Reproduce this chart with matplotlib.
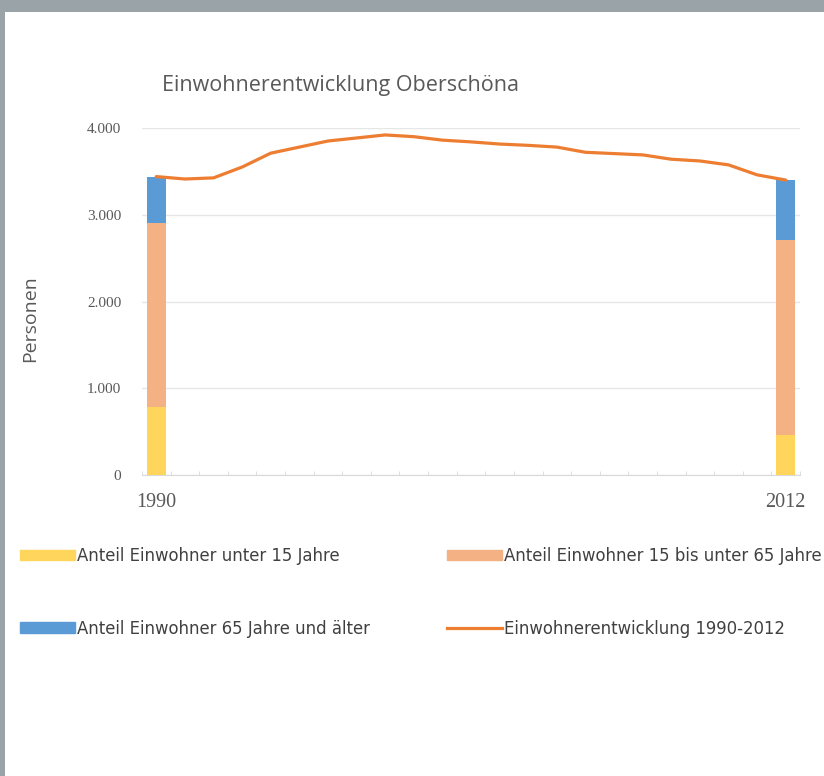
import matplotlib
matplotlib.use("Agg")
import matplotlib.pyplot as plt
from matplotlib.patches import Rectangle, Patch
from matplotlib.lines import Line2D
from matplotlib.ticker import FuncFormatter, FixedLocator

# Population of Oberschöna, 1990-2012
years = list(range(1990, 2013))
population = [3440, 3412, 3425, 3550, 3710, 3780, 3850, 3885, 3920, 3900,
              3860, 3840, 3815, 3800, 3780, 3720, 3705, 3690, 3640, 3620,
              3575, 3460, 3400]

# Age structure in the first and last year
bar_years = [1990, 2012]
under_15 = [785, 460]
age_15_65 = [2120, 2250]
age_65_plus = [535, 690]

x_labels = ["1990", "2012"]
legend_labels = [
    "Anteil Einwohner unter 15 Jahre",
    "Anteil Einwohner 15 bis unter 65 Jahre",
    "Anteil Einwohner 65 Jahre und älter",
    "Einwohnerentwicklung 1990-2012",
]

C_YELLOW = "#FFD55C"
C_PEACH = "#F4B183"
C_BLUE = "#5B9BD5"
C_LINE = "#ED7D31"
C_TEXT = "#595959"

W, H = 824, 776
fig = plt.figure(figsize=(W / 100, H / 100), dpi=100)
fig.patch.set_facecolor("#9AA4A8")
fig.add_artist(Rectangle((5 / W, 0), 1 - 5 / W, 1 - 12 / H,
                         transform=fig.transFigure, facecolor="white",
                         edgecolor="none", zorder=0))

ax = fig.add_axes([142 / W, 1 - 475 / H, (800 - 142) / W, (475 - 128) / H])
ax.set_facecolor("none")

idx = {y: i for i, y in enumerate(years)}
bx = [idx[y] for y in bar_years]
bw = 0.68
b1 = ax.bar(bx, under_15, width=bw, color=C_YELLOW, zorder=3)
b2 = ax.bar(bx, age_15_65, width=bw, bottom=under_15, color=C_PEACH, zorder=3)
bottom3 = [a + b for a, b in zip(under_15, age_15_65)]
b3 = ax.bar(bx, age_65_plus, width=bw, bottom=bottom3, color=C_BLUE, zorder=3)
ln, = ax.plot(range(len(years)), population, color=C_LINE, lw=2.3,
              solid_capstyle="round", solid_joinstyle="round", zorder=4)

ax.set_xlim(-0.5, len(years) - 0.5)
ax.set_ylim(0, 4000)
ax.set_yticks([0, 1000, 2000, 3000, 4000])
ax.yaxis.set_major_formatter(FuncFormatter(lambda v, p: f"{int(v):,}".replace(",", ".")))
ax.grid(axis="y", color="#E6E6E6", lw=1.0, zorder=0)
for s in ["top", "right", "left"]:
    ax.spines[s].set_visible(False)
ax.spines["bottom"].set_color("#D9D9D9")
ax.spines["bottom"].set_zorder(2)

ax.set_xticks(bx)
ax.set_xticklabels(x_labels)
ax.xaxis.set_minor_locator(FixedLocator([i - 0.5 for i in range(len(years) + 1)]))
ax.tick_params(axis="x", which="major", length=0, pad=13)
ax.tick_params(axis="x", which="minor", length=3, color="#D9D9D9", direction="in")
ax.tick_params(axis="y", length=0, pad=15)
for lab in ax.get_xticklabels():
    lab.set_fontfamily("Liberation Serif")
    lab.set_fontsize(14.5)
    lab.set_color(C_TEXT)
for lab in ax.get_yticklabels():
    lab.set_fontfamily("Liberation Serif")
    lab.set_fontsize(11)
    lab.set_color(C_TEXT)

fig.text(30 / W, 1 - 319 / H, "Personen", rotation=90, ha="center", va="center",
         fontsize=14, color=C_TEXT, family="Open Sans")
fig.text(341 / W, 1 - 85 / H, "Einwohnerentwicklung Oberschöna", ha="center",
         va="center", fontsize=15.5, color=C_TEXT, family="Open Sans")

# two legend columns: left = under 15 / 65+, right = 15-65 / line
handles = [Patch(color=C_YELLOW), Patch(color=C_PEACH), Patch(color=C_BLUE),
           Line2D([], [], color=C_LINE, lw=2.3)]
leg_kw = dict(loc="upper left", frameon=False, borderpad=0, borderaxespad=0,
              handlelength=3.3, handleheight=0.6, handletextpad=0.12,
              labelspacing=3.3, prop={"family": "DejaVu Sans", "size": 11.9})
columns = [([0, 2], 20), ([1, 3], 447)]
for sel, x0 in columns:
    leg = fig.legend([handles[i] for i in sel], [legend_labels[i] for i in sel],
                     bbox_to_anchor=(x0 / W, 1 - 547 / H), **leg_kw)
    for t in leg.get_texts():
        t.set_color("#404040")

fig.savefig("out.png", dpi=100, facecolor=fig.get_facecolor())
